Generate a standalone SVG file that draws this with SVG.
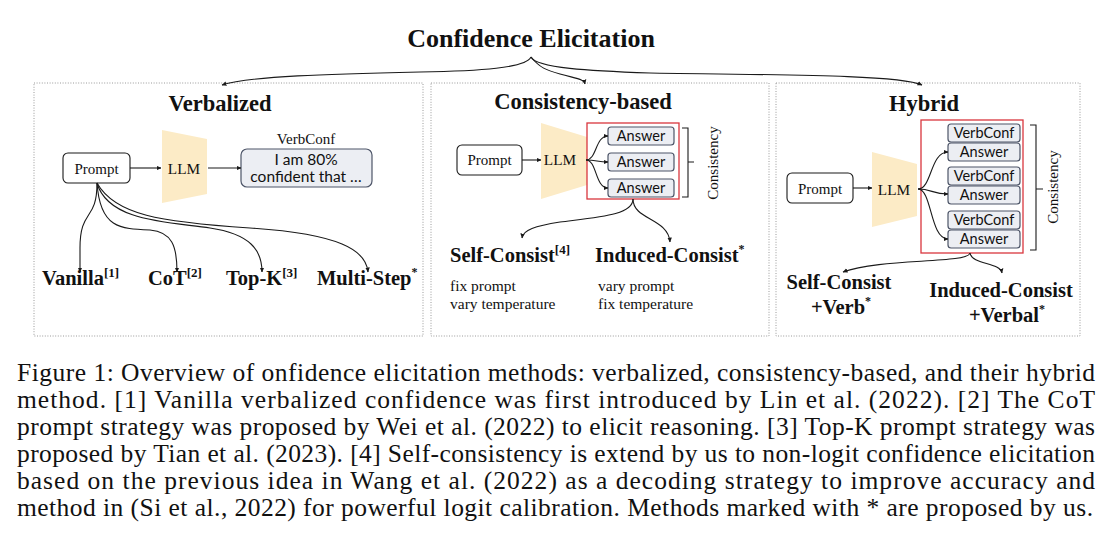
<svg xmlns="http://www.w3.org/2000/svg" width="1113" height="547" viewBox="0 0 1113 547">
<style>
.serif{font-family:"Liberation Serif","Times New Roman",serif;fill:#111}
.b{font-weight:bold}
.sans{font-family:Lato,"Open Sans","Liberation Sans",sans-serif;fill:#111}
.panel{fill:#fff;stroke:#9a9a9a;stroke-width:1;stroke-dasharray:1 1.6}
.prompt{fill:#fff;stroke:#1a1a1a;stroke-width:1.1}
.box{fill:#ECEEF3;stroke:#4d5568;stroke-width:1.2}
.llm{fill:#FCEBC6;stroke:none}
.red{fill:none;stroke:#D9363E;stroke-width:1.3}
.con{fill:none;stroke:#1a1a1a;stroke-width:1.1}
.ar{marker-end:url(#ah)}
.cap{font-family:"Liberation Serif","Times New Roman",serif;font-size:25.5px;fill:#111}
</style>
<defs>
<marker id="ah" viewBox="0 0 10 10" refX="9" refY="5" markerWidth="4.5" markerHeight="4.5" orient="auto"><path d="M0,0.5 L10,5 L0,9.5 z" fill="#1a1a1a"/></marker>
</defs>
<rect width="1113" height="547" fill="#fff"/>

<g id="title"><text class="serif b" x="531" y="47" font-size="26" text-anchor="middle">Confidence Elicitation</text></g>

<g id="panel-verbalized">
<rect class="panel" x="34" y="83" width="389" height="253"/>
<text class="serif b" x="220" y="111" font-size="22.5" text-anchor="middle">Verbalized</text>
</g>
<g id="panel-consistency">
<rect class="panel" x="431" y="83" width="338" height="253"/>
<text class="serif b" x="583" y="109" font-size="22.5" text-anchor="middle">Consistency-based</text>
</g>
<g id="panel-hybrid">
<rect class="panel" x="776" y="83" width="304" height="253"/>
<text class="serif b" x="924" y="111" font-size="22.5" text-anchor="middle">Hybrid</text>
</g>

<!-- Panel 1 nodes -->
<g id="v-prompt"><rect class="prompt" x="63" y="153" width="67" height="30" rx="5"/><text class="serif" x="96.5" y="174" font-size="15" text-anchor="middle">Prompt</text></g>
<g id="v-llm"><polygon class="llm" points="162,130 207,139 207,194 162,203"/><text class="serif" x="184" y="174" font-size="15.3" text-anchor="middle">LLM</text></g>
<g id="v-verbconf"><text class="serif" x="306" y="144" font-size="15" text-anchor="middle">VerbConf</text><rect class="box" x="241" y="149" width="131" height="38" rx="6"/><text class="sans" x="306" y="165" font-size="15.5" text-anchor="middle">I am 80%</text><text class="sans" x="306" y="182" font-size="15.5" text-anchor="middle">confident that …</text></g>
<g id="v-vanilla"><text class="serif b" x="42" y="285" font-size="20.5">Vanilla<tspan dy="-8" font-size="13">[1]</tspan></text></g>
<g id="v-cot"><text class="serif b" x="148" y="285" font-size="20.5">CoT<tspan dy="-8" font-size="13">[2]</tspan></text></g>
<g id="v-topk"><text class="serif b" x="226" y="285" font-size="20.5">Top-K<tspan dy="-8" font-size="13">[3]</tspan></text></g>
<g id="v-multistep"><text class="serif b" x="317" y="285" font-size="20.5">Multi-Step<tspan dy="-9" font-size="12">*</tspan></text></g>

<!-- Panel 2 nodes -->
<g id="c-prompt"><rect class="prompt" x="457" y="145" width="65" height="30" rx="5"/><text class="serif" x="489.5" y="165" font-size="15" text-anchor="middle">Prompt</text></g>
<g id="c-llm"><polygon class="llm" points="541,123 587,137 587,185 541,199"/><text class="serif" x="560" y="165" font-size="15.3" text-anchor="middle">LLM</text></g>
<g id="c-answers">
<rect class="red" x="587" y="123" width="92" height="76"/>
<rect class="box" x="608" y="127" width="66" height="18" rx="3"/><text class="sans" x="641" y="141" font-size="14.5" text-anchor="middle">Answer</text>
<rect class="box" x="608" y="153" width="66" height="18" rx="3"/><text class="sans" x="641" y="167" font-size="14.5" text-anchor="middle">Answer</text>
<rect class="box" x="608" y="179" width="66" height="18" rx="3"/><text class="sans" x="641" y="193" font-size="14.5" text-anchor="middle">Answer</text>
</g>
<g id="c-consistency"><path class="con" d="M682,128 H688 V197 H682 M688,162 H694"/><text class="serif" transform="translate(718,163) rotate(-90)" font-size="15" text-anchor="middle">Consistency</text></g>
<g id="c-self"><text class="serif b" x="450" y="262" font-size="20.5">Self-Consist<tspan dy="-8" font-size="13">[4]</tspan></text><text class="serif" x="450" y="291" font-size="15.5">fix prompt</text><text class="serif" x="450" y="309" font-size="15.5">vary temperature</text></g>
<g id="c-induced"><text class="serif b" x="595" y="262" font-size="20.5">Induced-Consist<tspan dy="-9" font-size="12">*</tspan></text><text class="serif" x="598" y="291" font-size="15.5">vary prompt</text><text class="serif" x="598" y="309" font-size="15.5">fix temperature</text></g>

<!-- Panel 3 nodes -->
<g id="h-prompt"><rect class="prompt" x="787" y="173" width="66" height="30" rx="5"/><text class="serif" x="820" y="194" font-size="15" text-anchor="middle">Prompt</text></g>
<g id="h-llm"><polygon class="llm" points="872,152 917,164 917,216 872,227"/><text class="serif" x="894" y="195" font-size="15.3" text-anchor="middle">LLM</text></g>
<g id="h-outputs">
<rect class="red" x="921" y="120" width="102" height="133"/>
<rect class="box" x="948" y="124" width="72" height="18" rx="3"/><text class="sans" x="984" y="138" font-size="14.5" text-anchor="middle">VerbConf</text>
<rect class="box" x="948" y="143" width="72" height="18" rx="3"/><text class="sans" x="984" y="157" font-size="14.5" text-anchor="middle">Answer</text>
<rect class="box" x="948" y="167" width="72" height="18" rx="3"/><text class="sans" x="984" y="181" font-size="14.5" text-anchor="middle">VerbConf</text>
<rect class="box" x="948" y="186" width="72" height="18" rx="3"/><text class="sans" x="984" y="200" font-size="14.5" text-anchor="middle">Answer</text>
<rect class="box" x="948" y="211" width="72" height="18" rx="3"/><text class="sans" x="984" y="225" font-size="14.5" text-anchor="middle">VerbConf</text>
<rect class="box" x="948" y="230" width="72" height="18" rx="3"/><text class="sans" x="984" y="244" font-size="14.5" text-anchor="middle">Answer</text>
</g>
<g id="h-consistency"><path class="con" d="M1030,125 H1036 V250 H1030 M1036,189 H1043"/><text class="serif" transform="translate(1058,187) rotate(-90)" font-size="15" text-anchor="middle">Consistency</text></g>
<g id="h-self"><text class="serif b" x="839" y="289" font-size="20.5" text-anchor="middle">Self-Consist</text><text class="serif b" x="841" y="314" font-size="20.5" text-anchor="middle">+Verb<tspan dy="-9" font-size="12">*</tspan></text></g>
<g id="h-induced"><text class="serif b" x="1001" y="297" font-size="20.5" text-anchor="middle">Induced-Consist</text><text class="serif b" x="1007" y="322" font-size="20.5" text-anchor="middle">+Verbal<tspan dy="-9" font-size="12">*</tspan></text></g>

<g id="connectors">
<!-- top brace -->
<path class="con ar" d="M531,57 C526,68 480,71 420,72 C330,74 250,76 222,85"/>
<path class="con ar" d="M531,57 C540,68 546,70 560,74 C578,79 584,79 585,84"/>
<path class="con ar" d="M531,57 C536,68 590,71 650,73 C790,75 900,75 922,85"/>
<!-- panel 1 -->
<path class="con ar" d="M130,168 H161"/>
<path class="con ar" d="M208,168 H241"/>
<path class="con ar" d="M97,183 C97,222 80,208 80,248 L80,272"/>
<path class="con ar" d="M97,183 C100,228 120,229 150,230 C172,232 177,246 177,272"/>
<path class="con ar" d="M97,183 C108,222 170,222 210,228 C250,234 262,250 262,272"/>
<path class="con ar" d="M97,183 C115,215 160,222 250,228 C340,234 366,250 368,272"/>
<!-- panel 2 -->
<path class="con ar" d="M522,160 H541"/>
<path class="con ar" d="M586,160 C597,160 595,136 608,136"/>
<path class="con ar" d="M586,160 C597,160 597,162 608,162"/>
<path class="con ar" d="M586,160 C597,160 595,188 608,188"/>
<path class="con ar" d="M633,199 C633,215 600,217 560,222 C535,226 523,230 522,238"/>
<path class="con ar" d="M633,199 C633,220 668,218 670,242"/>
<!-- panel 3 -->
<path class="con ar" d="M853,188 H872"/>
<path class="con ar" d="M918,189 C932,189 930,152 948,152"/>
<path class="con ar" d="M918,189 C932,189 932,194 948,194"/>
<path class="con ar" d="M918,189 C932,189 930,239 948,239"/>
<path class="con ar" d="M970,253 C968,264 880,258 843,272"/>
<path class="con ar" d="M970,253 C972,265 1000,262 1002,273"/>
</g>

<g id="caption">
<text class="cap" x="17" y="381" textLength="1078" lengthAdjust="spacing">Figure 1: Overview of onfidence elicitation methods: verbalized, consistency-based, and their hybrid</text>
<text class="cap" x="17" y="408" textLength="1078" lengthAdjust="spacing">method. [1] Vanilla verbalized confidence was first introduced by Lin et al. (2022). [2] The CoT</text>
<text class="cap" x="17" y="435" textLength="1078" lengthAdjust="spacing">prompt strategy was proposed by Wei et al. (2022) to elicit reasoning. [3] Top-K prompt strategy was</text>
<text class="cap" x="17" y="462" textLength="1078" lengthAdjust="spacing">proposed by Tian et al. (2023). [4] Self-consistency is extend by us to non-logit confidence elicitation</text>
<text class="cap" x="17" y="489" textLength="1078" lengthAdjust="spacing">based on the previous idea in Wang et al. (2022) as a decoding strategy to improve accuracy and</text>
<text class="cap" x="17" y="516" textLength="1076" lengthAdjust="spacing">method in (Si et al., 2022) for powerful logit calibration. Methods marked with * are proposed by us.</text>
</g>
</svg>
